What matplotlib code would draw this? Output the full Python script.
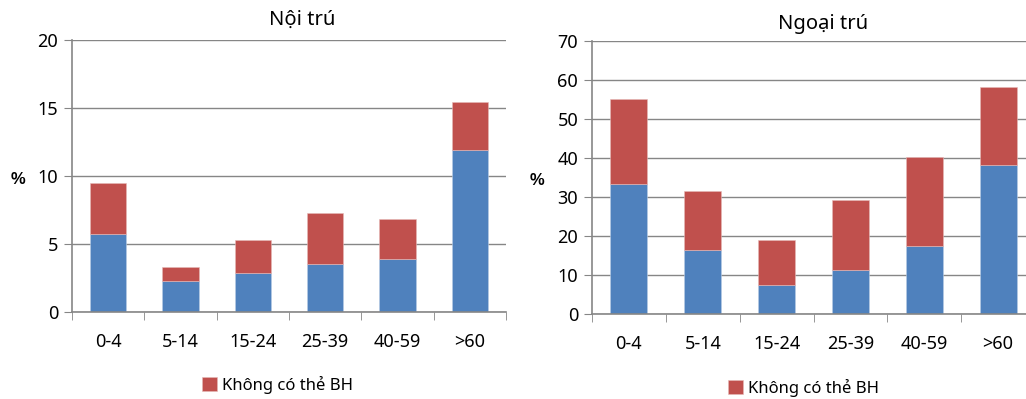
import matplotlib.pyplot as plt
import numpy as np

plt.rcParams['font.family'] = ['Noto Sans', 'DejaVu Sans']

groups = ["0-4", "5-14", "15-24", "25-39", "40-59", ">60"]

# Nội trú: total and insured (blue) part
noi_blue = [5.7, 2.3, 2.9, 3.5, 3.9, 11.9]
noi_total = [9.5, 3.3, 5.3, 7.3, 6.85, 15.45]

# Ngoại trú
ngoai_blue = [33.2, 16.3, 7.4, 11.2, 17.4, 38.2]
ngoai_total = [55.1, 31.6, 18.9, 29.3, 40.1, 58.2]

blue = "#4F81BD"
red = "#C0504D"
grid_c = "#868686"


def draw(ax, b, tot, ymax, step, title, title_x, title_y, fig):
    x = np.arange(len(groups))
    b = np.array(b)
    r = np.array(tot) - b
    ax.set_axisbelow(True)
    ax.yaxis.grid(True, color=grid_c, lw=1)
    ax.bar(x, b, width=0.5, color=blue, edgecolor="#B9CDE5", lw=0.4)
    hr = ax.bar(x, r, bottom=b, width=0.5, color=red, edgecolor="#E6B9B8", lw=0.4)
    ax.set_xlim(-0.5, len(groups) - 0.5)
    ax.set_ylim(0, ymax)
    ax.set_yticks(np.arange(0, ymax + 1, step))
    ax.set_xticks(x)
    ax.set_xticklabels(groups)
    ax.set_xticks(np.arange(-0.5, len(groups), 1), minor=True)
    ax.tick_params(axis="x", which="major", length=0, pad=15, labelsize=13)
    ax.tick_params(axis="x", which="minor", length=6, color=grid_c)
    ax.tick_params(axis="y", length=6, color=grid_c, labelsize=13, pad=4)
    for s in ["top", "right"]:
        ax.spines[s].set_visible(False)
    for s in ["left", "bottom"]:
        ax.spines[s].set_color(grid_c)
        ax.spines[s].set_linewidth(1.2)
    fig.text(title_x, title_y, title, ha="center", va="center", fontsize=14.5)
    return hr


fig = plt.figure(figsize=(10.26, 3.99), dpi=100)

ax1 = fig.add_axes([72 / 1026, 1 - 312 / 399, 434 / 1026, 272 / 399])
h1 = draw(ax1, noi_blue, noi_total, 20, 5, "Nội trú", 302 / 1026, 1 - 20 / 399, fig)
fig.text(18 / 1026, 1 - 179 / 399, "%", ha="center", va="center", fontsize=12,
         fontweight="bold", family="Liberation Sans")

ax2 = fig.add_axes([592 / 1026, 1 - 313.7 / 399, 443 / 1026, 272.7 / 399])
h2 = draw(ax2, ngoai_blue, ngoai_total, 70, 10, "Ngoại trú", 823 / 1026, 1 - 24 / 399, fig)
fig.text(537 / 1026, 1 - 181 / 399, "%", ha="center", va="center", fontsize=12,
         fontweight="bold", family="Liberation Sans")

for h, cx, cy in [(h1, 277, 385), (h2, 803, 388)]:
    fig.legend([h], ["Không có thẻ BH"], loc="center", bbox_to_anchor=(cx / 1026, 1 - cy / 399),
               frameon=False, fontsize=12, handlelength=0.9, handleheight=0.9, handletextpad=0.3,
               borderpad=0)

fig.savefig("out.png", dpi=100)
